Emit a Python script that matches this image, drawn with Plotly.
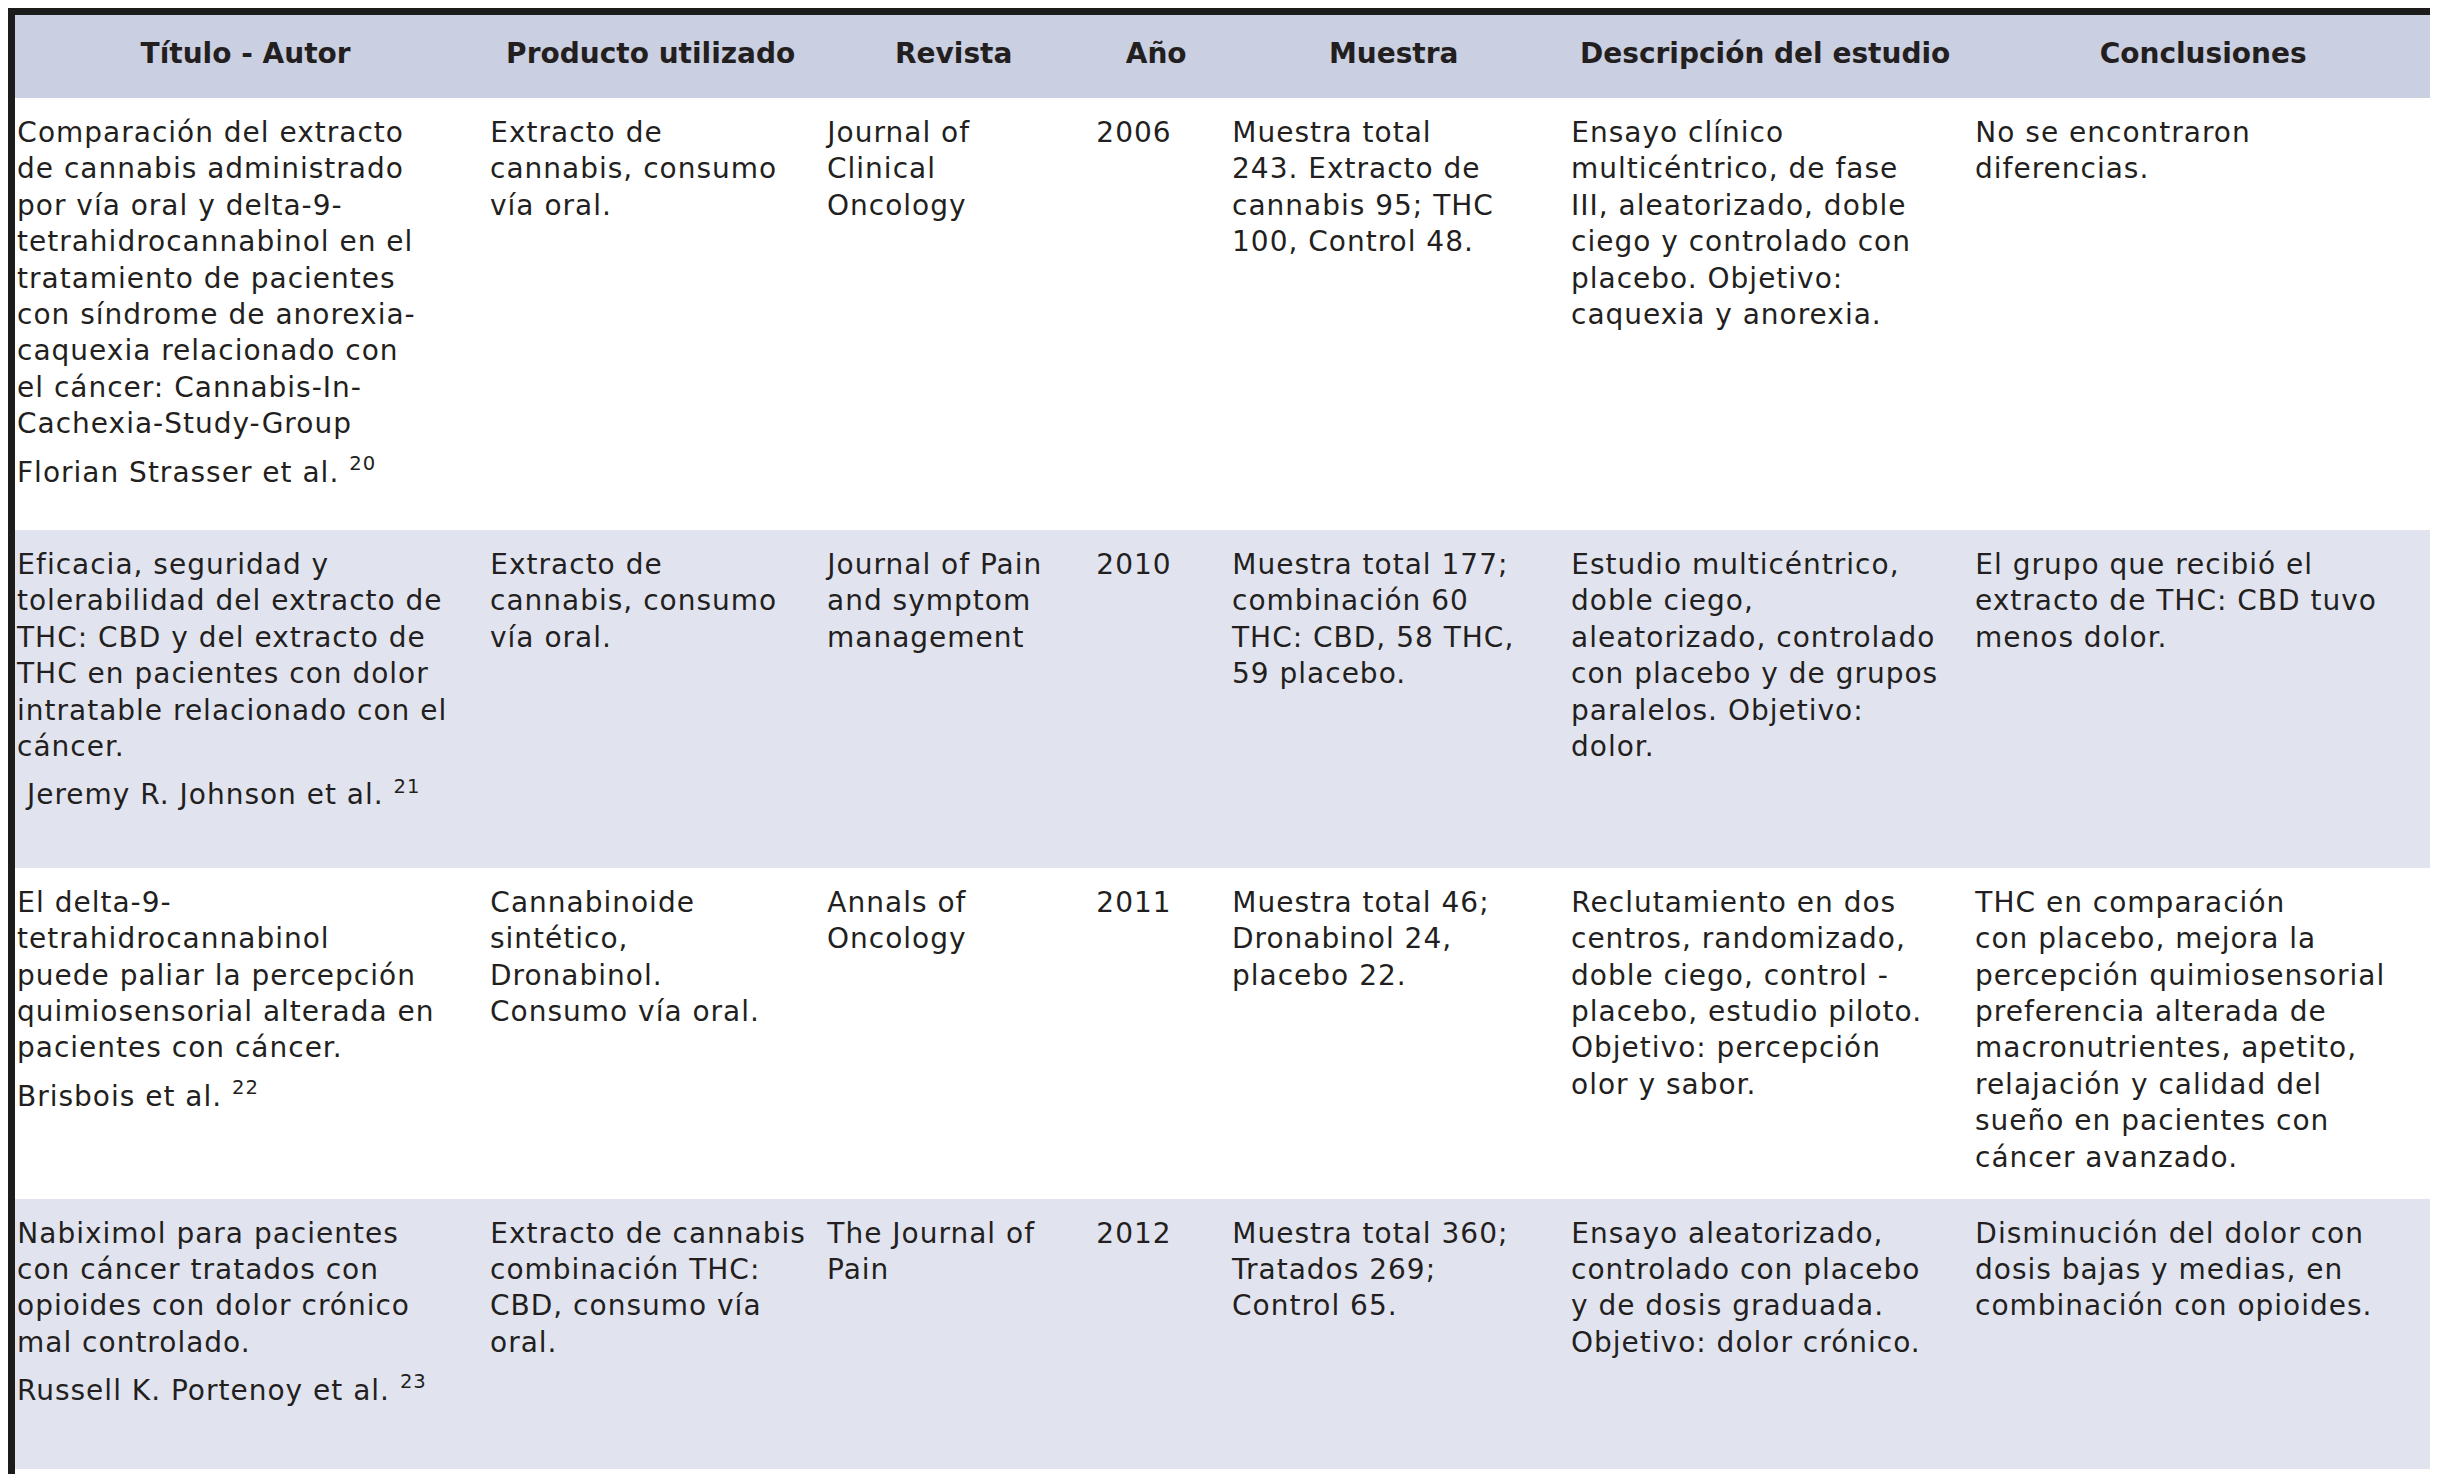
"""
Tabla de estudios clínicos con cannabinoides en pacientes con cáncer
"""
import plotly.graph_objects as go

# Column headers
headers = ["Título - Autor", "Producto utilizado", "Revista", "Año",
           "Muestra", "Descripción del estudio", "Conclusiones"]

# One entry per study (row)
titulos = [
    "Comparación del extracto<br>de cannabis administrado<br>por vía oral y delta-9-<br>"
    "tetrahidrocannabinol en el<br>tratamiento de pacientes<br>con síndrome de anorexia-<br>"
    "caquexia relacionado con<br>el cáncer: Cannabis-In-<br>Cachexia-Study-Group",
    "Eficacia, seguridad y<br>tolerabilidad del extracto de<br>THC: CBD y del extracto de<br>"
    "THC en pacientes con dolor<br>intratable relacionado con el<br>cáncer.",
    "El delta-9-<br>tetrahidrocannabinol<br>puede paliar la percepción<br>"
    "quimiosensorial alterada en<br>pacientes con cáncer.",
    "Nabiximol para pacientes<br>con cáncer tratados con<br>opioides con dolor crónico<br>"
    "mal controlado.",
]
autores = ["Florian Strasser et al.", " Jeremy R. Johnson et al.",
           "Brisbois et al.", "Russell K. Portenoy et al."]
referencias = ["20", "21", "22", "23"]

productos = [
    "Extracto de<br>cannabis, consumo<br>vía oral.",
    "Extracto de<br>cannabis, consumo<br>vía oral.",
    "Cannabinoide<br>sintético,<br>Dronabinol.<br>Consumo vía oral.",
    "Extracto de cannabis<br>combinación THC:<br>CBD, consumo vía<br>oral.",
]
revistas = [
    "Journal of<br>Clinical<br>Oncology",
    "Journal of Pain<br>and symptom<br>management",
    "Annals of<br>Oncology",
    "The Journal of<br>Pain",
]
anios = ["2006", "2010", "2011", "2012"]
muestras = [
    "Muestra total<br>243. Extracto de<br>cannabis 95; THC<br>100, Control 48.",
    "Muestra total 177;<br>combinación 60<br>THC: CBD, 58 THC,<br>59 placebo.",
    "Muestra total 46;<br>Dronabinol 24,<br>placebo 22.",
    "Muestra total 360;<br>Tratados 269;<br>Control 65.",
]
descripciones = [
    "Ensayo clínico<br>multicéntrico, de fase<br>III, aleatorizado, doble<br>"
    "ciego y controlado con<br>placebo. Objetivo:<br>caquexia y anorexia.",
    "Estudio multicéntrico,<br>doble ciego,<br>aleatorizado, controlado<br>"
    "con placebo y de grupos<br>paralelos. Objetivo:<br>dolor.",
    "Reclutamiento en dos<br>centros, randomizado,<br>doble ciego, control -<br>"
    "placebo, estudio piloto.<br>Objetivo: percepción<br>olor y sabor.",
    "Ensayo aleatorizado,<br>controlado con placebo<br>y de dosis graduada.<br>"
    "Objetivo: dolor crónico.",
]
conclusiones = [
    "No se encontraron<br>diferencias.",
    "El grupo que recibió el<br>extracto de THC: CBD tuvo<br>menos dolor.",
    "THC en comparación<br>con placebo, mejora la<br>percepción quimiosensorial<br>"
    "preferencia alterada de<br>macronutrientes, apetito,<br>relajación y calidad del<br>"
    "sueño en pacientes con<br>cáncer avanzado.",
    "Disminución del dolor con<br>dosis bajas y medias, en<br>combinación con opioides.",
]

# Layout / style
W, H = 2438, 1474
FONT = "DejaVu Sans"
FS = 28
HFS = 28
TXT = "#231f20"
HEAD_BG = "#cacfe1"
ROW_BG = ["#ffffff", "#e1e4ef", "#ffffff", "#e1e4ef"]
COL_W = [473, 337, 269, 136, 339, 404, 472]
# blank space under each row's text: (extra lines, extra px)
ROW_PAD = [(1, 9), (1, 24), (2, 17), (1, 29)]
BORDER = 7
HEAD_TOP = 14      # px, extra space above header labels
BODY_TOP = 9       # px, extra space above body text
AUTHOR_GAP = -12   # px, small gap between title and author
TRACKING = "1px"   # letter spacing of body text


def shifted(txt, px):
    return f'<span style="baseline-shift:{px}px">{txt}</span>'


def top_space(px, fs):
    # a 1px-high invisible glyph raised above the text line: plotly aligns the
    # text block by its top, so this pushes the real text down by px
    return f'<span style="font-size:1px;baseline-shift:{round(0.93 * fs + px)}px">\u00a0</span>'


titulo_autor = []
for t, a, r, (n, px) in zip(titulos, autores, referencias, ROW_PAD):
    autor = shifted(f"{a} <sup>{r}</sup>", AUTHOR_GAP)
    pad = "<br>\u00a0" * (n - 1) + "<br>" + shifted("\u00a0", -px)
    titulo_autor.append(f"{t}<br>{autor}{pad}")

# explicit <br> keeps plotly from auto-wrapping single-line cells
anio_txt = [f"{a}<br>" for a in anios]

columns = [titulo_autor, productos, revistas, anio_txt, muestras,
           descripciones, conclusiones]
columns = [[top_space(BODY_TOP, FS) + f'<span style="letter-spacing:{TRACKING}">{v}</span>'
            for v in col] for col in columns]

fig = go.Figure(
    go.Table(
        domain=dict(x=[1 / W, 1 - 7 / W], y=[0, 1 - 6 / H]),
        columnwidth=COL_W,
        header=dict(
            values=[top_space(HEAD_TOP, HFS) + f"<b>{h}</b><br>" for h in headers],
            align="center",
            height=84,
            fill_color=HEAD_BG,
            line=dict(width=0, color=HEAD_BG),
            font=dict(family=FONT, size=HFS, color=TXT),
        ),
        cells=dict(
            values=columns,
            align="left",
            fill_color=[ROW_BG] * len(columns),
            line=dict(width=0, color="rgba(0,0,0,0)"),
            font=dict(family=FONT, size=FS, color=TXT),
        ),
    )
)

# outer frame
fig.add_shape(
    type="rect", xref="paper", yref="paper",
    x0=BORDER / 2 / W, x1=1 - BORDER / 2 / W,
    y0=BORDER / 2 / H, y1=1 - BORDER / 2 / H,
    line=dict(color="#1c1c1c", width=BORDER),
    layer="above",
)

fig.update_layout(
    width=W, height=H,
    margin=dict(l=0, r=0, t=0, b=0),
    paper_bgcolor="white",
)

fig.write_html("out.html")
